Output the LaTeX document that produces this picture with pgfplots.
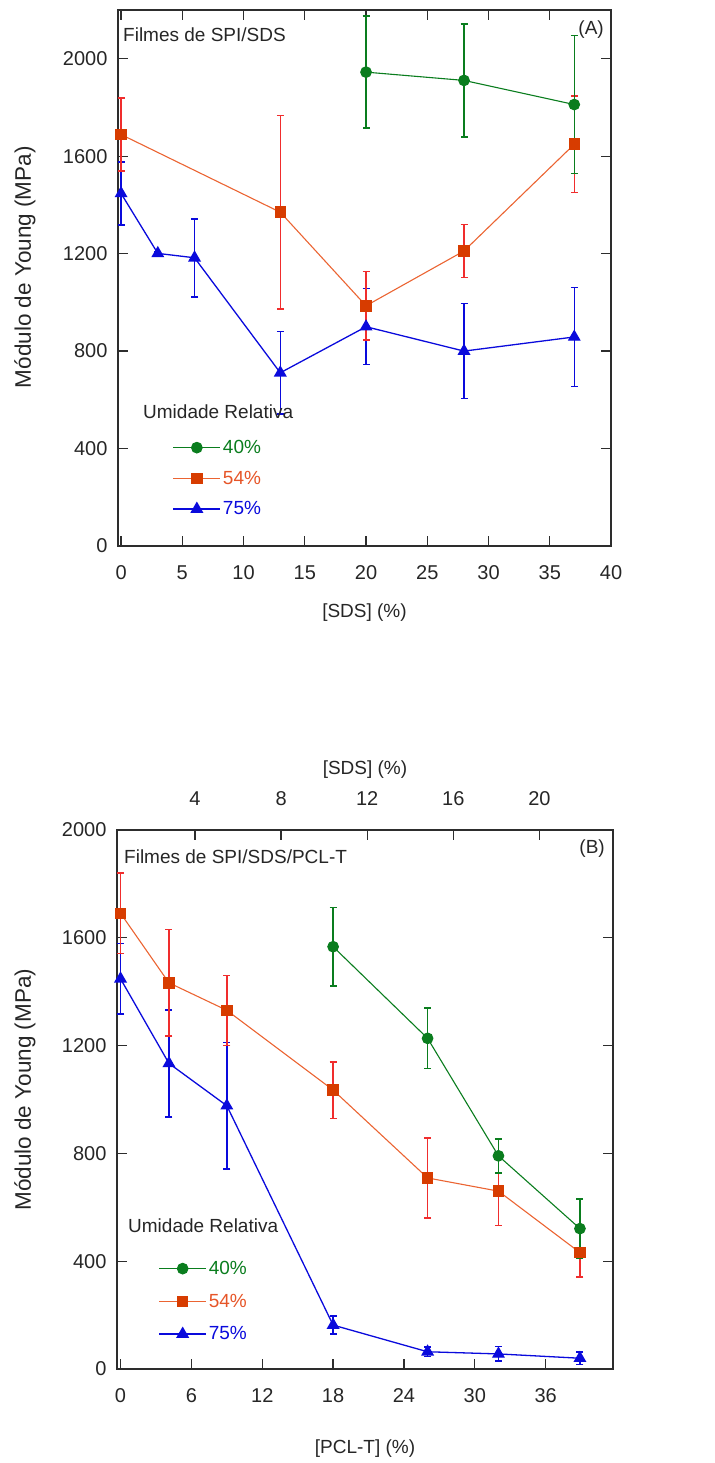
\documentclass[border=0pt]{standalone}
\usepackage{fontspec}
\setmainfont{Liberation Sans}
\usepackage{pgfplots}
\pgfplotsset{compat=1.18}
\usepackage{pgfplotstable}

\definecolor{cgreen}{RGB}{10,125,30}
\definecolor{rline}{RGB}{235,100,50}
\definecolor{rmark}{RGB}{215,60,0}
\definecolor{rerr}{RGB}{240,45,45}
\definecolor{rtext}{RGB}{230,85,40}
\definecolor{cblue}{RGB}{10,10,220}
\definecolor{axgray}{RGB}{45,45,45}

% Young's modulus (MPa) with standard deviation, SPI/SDS films
\pgfplotstableread{
x    y     e
20   1945  230
28   1911  232
37   1812  283
}\AgreenRH
\pgfplotstableread{
x    y     e
0    1689  150
13   1370  398
20   986   140
28   1211  108
37   1649  198
}\AredRH
\pgfplotstableread{
x    y     e
0    1447  130
3    1201  8
6    1183  160
13   711   170
20   900   156
28   800   195
37   858   203
}\AblueRH

% SPI/SDS/PCL-T films
\pgfplotstableread{
x     y     e
18    1567  145
26    1227  112
32    791   63
38.9  521   110
}\BgreenRH
\pgfplotstableread{
x     y     e
0     1691  150
4.1   1433  198
9     1331  130
18    1035  105
26    709   148
32    660   127
38.9  432   90
}\BredRH
\pgfplotstableread{
x     y     e
0     1448  130
4.1   1134  198
9     977   235
18    163   33
26    64    18
32    56    27
38.9  40    24
}\BblueRH

\newcommand{\fs}{\fontsize{20bp}{24bp}\selectfont}
\newcommand{\ft}{\fontsize{19bp}{23bp}\selectfont}
\newcommand{\fy}{\fontsize{22.5bp}{26bp}\selectfont}

\pgfplotsset{
  panel/.style={
    scale only axis,
    clip=false,
    axis line style={line width=1.3bp, axgray},
    every tick/.style={line width=1.3bp, axgray},
    major tick length=10bp,
    tick align=inside,
    /pgf/number format/assume math mode=true,
    /pgf/number format/1000 sep={},
    tick label style={font=\fs, text=black!85},
    xlabel style={font=\ft, text=black!85},
    ylabel style={font=\fy, text=black!85},
    xticklabel style={yshift=-16bp},
    yticklabel style={xshift=-7bp},
    legend cell align=left,
    legend image code/.code={
      \draw[mark repeat=2,mark phase=2] plot coordinates {(0bp,0bp) (23.5bp,0bp) (47bp,0bp)};
    },
    reverse legend,
  },
  ebar/.style={
    error bars/.cd, y dir=both, y explicit,
    error bar style={line width=1.5bp, solid, #1},
    error mark=-,
    error mark options={rotate=90, line width=1.5bp, mark size=3.5bp, solid, #1},
  },
  sblue/.style={cblue, line width=1.3bp, mark=triangle*, mark size=6.2bp,
    mark options={solid, fill=cblue}, ebar=cblue},
  sred/.style={rline, line width=1.1bp, mark=square*, mark size=5.2bp,
    mark options={solid, fill=rmark, draw=rmark}, ebar=rerr},
  sgreen/.style={cgreen, line width=1.1bp, mark=*, mark size=5.3bp,
    mark options={solid, fill=cgreen}, ebar=cgreen},
}

\begin{document}
\begin{tikzpicture}
\path[use as bounding box] (0bp,0bp) rectangle (715bp,-1463bp);

% ---------------- (A) SPI/SDS ----------------
\begin{axis}[
  panel,
  at={(118bp,-546bp)}, anchor=south west,
  width=493bp, height=536bp,
  xmin=-0.25, xmax=40, ymin=0, ymax=2200,
  xtick={0,5,...,40}, ytick={0,400,...,2000},
  xlabel={[SDS] (\%)}, ylabel={Módulo de Young (MPa)},
  xlabel style={at={(axis description cs:0.5,-0.125)}, anchor=center},
  ylabel style={at={(axis description cs:-0.1886,0.52)}, anchor=center},
  legend style={at={(axis cs:4.2,443)}, anchor=north west, draw=none, fill=none,
    font=\ft, row sep=12bp, inner sep=0pt},
]
\addplot[sblue] table[x=x, y=y, y error=e] {\AblueRH};
\addlegendentry{\textcolor{cblue}{75\%}}
\addplot[sred] table[x=x, y=y, y error=e] {\AredRH};
\addlegendentry{\textcolor{rtext}{54\%}}
\addplot[sgreen] table[x=x, y=y, y error=e] {\AgreenRH};
\addlegendentry{\textcolor{cgreen}{40\%}}
\end{axis}
\node[anchor=west, font=\ft, text=black!85, inner sep=0pt] at (123bp,-35bp) {Filmes de SPI/SDS};
\node[anchor=east, font=\ft, text=black!85, inner sep=0pt] at (604bp,-30bp) {(A)};
\node[anchor=west, font=\ft, text=black!85, inner sep=0pt] at (143bp,-412bp) {Umidade Relativa};

% ---------------- (B) SPI/SDS/PCL-T ----------------
\begin{axis}[
  panel,
  at={(117bp,-1369bp)}, anchor=south west,
  width=496bp, height=539bp,
  xmin=-0.3, xmax=41.7, ymin=0, ymax=2000,
  xtick={0,6,...,36}, ytick={0,400,...,2000},
  xtick pos=bottom,
  xlabel={[PCL-T] (\%)}, ylabel={Módulo de Young (MPa)},
  xlabel style={at={(axis description cs:0.5,-0.148)}, anchor=center},
  ylabel style={at={(axis description cs:-0.1855,0.518)}, anchor=center},
  legend style={at={(axis cs:3.2,408)}, anchor=north west, draw=none, fill=none,
    font=\ft, row sep=14bp, inner sep=0pt},
]
\addplot[sblue] table[x=x, y=y, y error=e] {\BblueRH};
\addlegendentry{\textcolor{cblue}{75\%}}
\addplot[sred] table[x=x, y=y, y error=e] {\BredRH};
\addlegendentry{\textcolor{rtext}{54\%}}
\addplot[sgreen] table[x=x, y=y, y error=e] {\BgreenRH};
\addlegendentry{\textcolor{cgreen}{40\%}}
\end{axis}

% secondary [SDS] scale on top of panel (B)
\begin{axis}[
  scale only axis,
  at={(117bp,-1369bp)}, anchor=south west,
  width=496bp, height=539bp,
  xmin=0.376, xmax=23.42, ymin=0, ymax=1,
  axis x line*=top, hide y axis,
  axis line style={line width=1.3bp, axgray},
  every tick/.style={line width=1.3bp, axgray},
  major tick length=10bp, tick align=inside,
  xtick={4,8,12,16,20},
  /pgf/number format/assume math mode=true,
  tick label style={font=\fs, text=black!85},
  xticklabel style={yshift=21bp},
  xlabel={[SDS] (\%)},
  xlabel style={font=\ft, text=black!85, at={(axis description cs:0.5,1.113)}, anchor=center},
]
\end{axis}
\node[anchor=west, font=\ft, text=black!85, inner sep=0pt] at (124bp,-857bp) {Filmes de SPI/SDS/PCL-T};
\node[anchor=east, font=\ft, text=black!85, inner sep=0pt] at (605bp,-849bp) {(B)};
\node[anchor=west, font=\ft, text=black!85, inner sep=0pt] at (128bp,-1226bp) {Umidade Relativa};
\end{tikzpicture}
\end{document}
